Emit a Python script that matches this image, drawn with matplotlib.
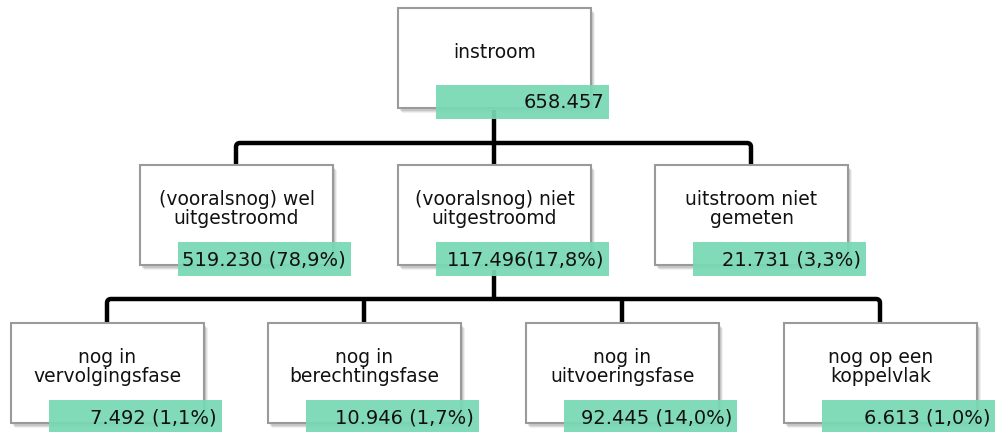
import matplotlib
matplotlib.use("Agg")
import matplotlib.pyplot as plt
from matplotlib.patches import Rectangle
from matplotlib.path import Path
from matplotlib.patches import PathPatch

# ---- data ----
top_label = "instroom"
top_value = "658.457"
level2_labels = ["(vooralsnog) wel\nuitgestroomd", "(vooralsnog) niet\nuitgestroomd", "uitstroom niet\ngemeten"]
level2_values = ["519.230 (78,9%)", "117.496(17,8%)", "21.731 (3,3%)"]
level3_labels = ["nog in\nvervolgingsfase", "nog in\nberechtingsfase", "nog in\nuitvoeringsfase", "nog op een\nkoppelvlak"]
level3_values = ["7.492 (1,1%)", "10.946 (1,7%)", "92.445 (14,0%)", "6.613 (1,0%)"]

# ---- layout (pixel units) ----
W, H = 997, 432
BW, BH = 193, 100
GW, GH = 173, 34
GREEN = "#79d9b3"

fig = plt.figure(figsize=(W / 100, H / 100), dpi=100)
ax = fig.add_axes([0, 0, 1, 1])
ax.set_xlim(0, W)
ax.set_ylim(H, 0)
ax.axis("off")

def box(x0, y0, label, value):
    # shadow
    for i, a in enumerate([0.10, 0.08, 0.06]):
        ax.add_patch(Rectangle((x0 + 2 + i, y0 + 3 + i), BW, BH, facecolor="black",
                               edgecolor="none", alpha=a, zorder=2))
    ax.add_patch(Rectangle((x0, y0), BW, BH, facecolor="white", edgecolor="#9a9a9a",
                           linewidth=1.5, zorder=3))
    ax.text(x0 + BW / 2, y0 + 44, label, ha="center", va="center", fontsize=13.5,
            family="DejaVu Sans", color="#111111", linespacing=1.05, zorder=4)
    gx0, gy0 = x0 + 38, y0 + BH - 23
    ax.add_patch(Rectangle((gx0, gy0), GW, GH, facecolor=GREEN, edgecolor="none",
                           alpha=0.93, zorder=5))
    ax.text(gx0 + GW - 5, gy0 + GH / 2 + 1, value, ha="right", va="center",
            fontsize=14, family="DejaVu Sans", color="#111111", zorder=6)

def connector(xp, y_from, y_bar, xs, y_to):
    lw = 3.2
    ax.plot([xp, xp], [y_from, y_bar], color="black", lw=lw, solid_capstyle="butt", zorder=1)
    xl, xr = min(xs), max(xs)
    r = 4
    verts = [(xl, y_to), (xl, y_bar + r), (xl, y_bar), (xl + r, y_bar),
             (xr - r, y_bar), (xr, y_bar), (xr, y_bar + r), (xr, y_to)]
    codes = [Path.MOVETO, Path.LINETO, Path.CURVE3, Path.CURVE3,
             Path.LINETO, Path.CURVE3, Path.CURVE3, Path.LINETO]
    ax.add_patch(PathPatch(Path(verts, codes), facecolor="none", edgecolor="black",
                           lw=lw, capstyle="butt", joinstyle="round", zorder=1))
    for x in xs[1:-1]:
        ax.plot([x, x], [y_bar, y_to], color="black", lw=lw, solid_capstyle="butt", zorder=1)

top_x = 398
l2_x = [140, 398, 655]
l3_x = [11, 268, 526, 784]

connector(top_x + 96, 110, 143, [x + 96 for x in l2_x], 166)
connector(l2_x[1] + 96, 270, 299, [x + 96 for x in l3_x], 324)

box(top_x, 8, top_label, top_value)
for x, lab, val in zip(l2_x, level2_labels, level2_values):
    box(x, 165, lab, val)
for x, lab, val in zip(l3_x, level3_labels, level3_values):
    box(x, 323, lab, val)

fig.savefig("out.png", dpi=100)
